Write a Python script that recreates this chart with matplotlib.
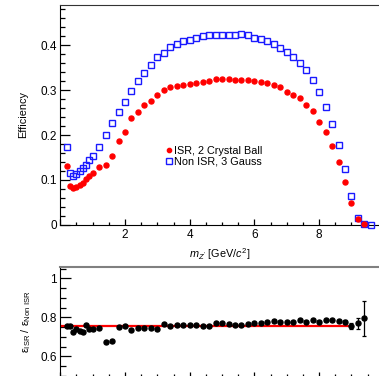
import numpy as np
import matplotlib
matplotlib.use("Agg")
import matplotlib.pyplot as plt
from matplotlib.ticker import MultipleLocator, FormatStrFormatter, FuncFormatter

plt.rcParams['font.family'] = ['Liberation Sans', 'DejaVu Sans']
plt.rcParams['mathtext.fontset'] = 'custom'
plt.rcParams['mathtext.rm'] = 'Liberation Sans'
plt.rcParams['mathtext.it'] = 'Liberation Sans:italic'
plt.rcParams['mathtext.default'] = 'regular'

# mass bins (GeV/c^2): fine binning below 1 GeV, then 0.2 GeV steps
mass = [0.2, 0.3, 0.4, 0.5, 0.6, 0.7, 0.8, 0.9, 1.0,
        1.2, 1.4, 1.6, 1.8, 2.0, 2.2, 2.4, 2.6, 2.8, 3.0, 3.2, 3.4, 3.6, 3.8, 4.0,
        4.2, 4.4, 4.6, 4.8, 5.0, 5.2, 5.4, 5.6, 5.8, 6.0, 6.2, 6.4, 6.6, 6.8, 7.0,
        7.2, 7.4, 7.6, 7.8, 8.0, 8.2, 8.4, 8.6, 8.8, 9.0, 9.2, 9.4, 9.6]

eff_isr = [0.132, 0.087, 0.081, 0.085, 0.088, 0.093, 0.102, 0.109, 0.115,
           0.129, 0.134, 0.154, 0.187, 0.207, 0.238, 0.251, 0.267, 0.275, 0.289,
           0.300, 0.307, 0.310, 0.312, 0.313,
           0.317, 0.318, 0.321, 0.324, 0.324, 0.324, 0.322, 0.322, 0.322, 0.321,
           0.319, 0.315, 0.311, 0.306, 0.297, 0.289, 0.282, 0.267, 0.254, 0.229,
           0.206, 0.176, 0.139, 0.096, 0.048, 0.012, 0.001, np.nan]

eff_nonisr = [0.174, 0.115, 0.109, 0.113, 0.120, 0.127, 0.134, 0.144, 0.154,
              0.173, 0.199, 0.226, 0.251, 0.274, 0.299, 0.321, 0.339, 0.357, 0.374,
              0.383, 0.397, 0.404, 0.410, 0.411,
              0.417, 0.421, 0.423, 0.424, 0.424, 0.424, 0.424, 0.425, 0.423, 0.417,
              0.415, 0.409, 0.402, 0.393, 0.385, 0.374, 0.360, 0.345, 0.323, 0.295,
              0.263, 0.225, 0.178, 0.124, 0.064, 0.016, 0.001, 0.0]

ratio = [0.754, 0.754, 0.725, 0.740, 0.732, 0.727, 0.759, 0.740, 0.742,
         0.745, 0.672, 0.681, 0.750, 0.757, 0.735, 0.747, 0.747, 0.747, 0.739,
         0.766, 0.757, 0.762, 0.759, 0.759,
         0.759, 0.756, 0.757, 0.769, 0.771, 0.766, 0.761, 0.761, 0.766, 0.773,
         0.773, 0.774, 0.781, 0.779, 0.774, 0.776, 0.788, 0.778, 0.786, 0.779,
         0.785, 0.786, 0.783, 0.779, 0.756, 0.769, 0.795]
ratio_err = [0.005] * 47 + [0.006, 0.013, 0.027, 0.09]

fit_value = 0.757
fit_range = [0.06, 8.93]

W, H = 379, 376
fig = plt.figure(figsize=(W / 100, H / 100), dpi=100)

def px_axes(left, top, right, bottom):
    return fig.add_axes([left / W, 1 - bottom / H, (right - left) / W, (bottom - top) / H])

# origin label is left off the mass axis
no_zero = FuncFormatter(lambda v, p: '' if abs(v) < 1e-9 else '%g' % v)

# ---- efficiency panel
ax = px_axes(60.3, 5, 379, 224.7)
ax.plot(mass[:len(eff_nonisr)], eff_nonisr, 's', mfc='none', mec='#1a1aff', ms=4.5, mew=1.0,
        label='Non ISR, 3 Gauss', clip_on=False, zorder=3)
ax.plot(mass, eff_isr, 'o', color='#ff0000', mec='#ff0000', ms=3.6,
        label='ISR, 2 Crystal Ball', clip_on=False, zorder=4)
ax.set_xlim(0, 9.85)
ax.set_ylim(0, 0.49)
ax.xaxis.set_major_locator(MultipleLocator(2))
ax.xaxis.set_minor_locator(MultipleLocator(0.5))
ax.xaxis.set_major_formatter(no_zero)
ax.yaxis.set_major_locator(MultipleLocator(0.1))
ax.yaxis.set_minor_locator(MultipleLocator(0.02))
ax.yaxis.set_major_formatter(FormatStrFormatter('%g'))
ax.tick_params(which='both', direction='in', top=False, right=False, labelsize=8.5, width=0.9)
ax.tick_params(axis='y', which='major', length=7.5, pad=2.5)
ax.tick_params(axis='y', which='minor', length=3.8)
ax.tick_params(axis='x', which='major', length=4, pad=3)
ax.tick_params(axis='x', which='minor', length=2)
ax.spines['right'].set_visible(False)
ax.spines['top'].set_color('#333333')
ax.set_ylabel('Efficiency', fontsize=7.8, labelpad=9)
ax.set_xlabel("$\\it{m}_{\\it{Z'}}$ [GeV/$\\it{c}^{2}$]", fontsize=7.8, labelpad=4)

h, l = ax.get_legend_handles_labels()
ax.legend(h[::-1], l[::-1], loc='upper left', bbox_to_anchor=(166 / W, 1 - 146 / H),
          bbox_transform=fig.transFigure, frameon=False, fontsize=7.8,
          handlelength=0.6, handletextpad=0.15, borderpad=0, borderaxespad=0,
          labelspacing=0.05, markerscale=0.85)

# ---- ratio panel
ax2 = px_axes(60.3, 267, 379, 377)
ax2.plot(fit_range, [fit_value, fit_value], color='#ff0000', lw=1.6, zorder=2)
ax2.errorbar(mass[:len(ratio)], ratio, yerr=ratio_err, fmt='o', color='black', ms=3.6,
             elinewidth=0.9, capsize=1.6, capthick=0.9, zorder=3)
ax2.set_xlim(0, 9.85)
ax2.set_ylim(0.495, 1.058)
ax2.xaxis.set_major_locator(MultipleLocator(2))
ax2.xaxis.set_minor_locator(MultipleLocator(0.5))
ax2.yaxis.set_major_locator(MultipleLocator(0.2))
ax2.yaxis.set_minor_locator(MultipleLocator(0.05))
ax2.yaxis.set_major_formatter(FormatStrFormatter('%g'))
ax2.tick_params(which='both', direction='in', top=False, right=False, labelsize=8.5, width=0.9)
ax2.tick_params(axis='y', which='major', length=8, pad=2.5)
ax2.tick_params(axis='y', which='minor', length=4.5)
ax2.tick_params(axis='x', which='major', length=3.5, labelbottom=False)
ax2.tick_params(axis='x', which='minor', length=2)
ax2.spines['right'].set_visible(False)
ax2.spines['top'].set_color('#808080')
ax2.spines['top'].set_linewidth(1.5)
ax2.set_ylabel('$\\epsilon_{ISR}$ / $\\epsilon_{Non\\ ISR}$', fontsize=7.8, labelpad=5)

fig.savefig('out.png', dpi=100)
